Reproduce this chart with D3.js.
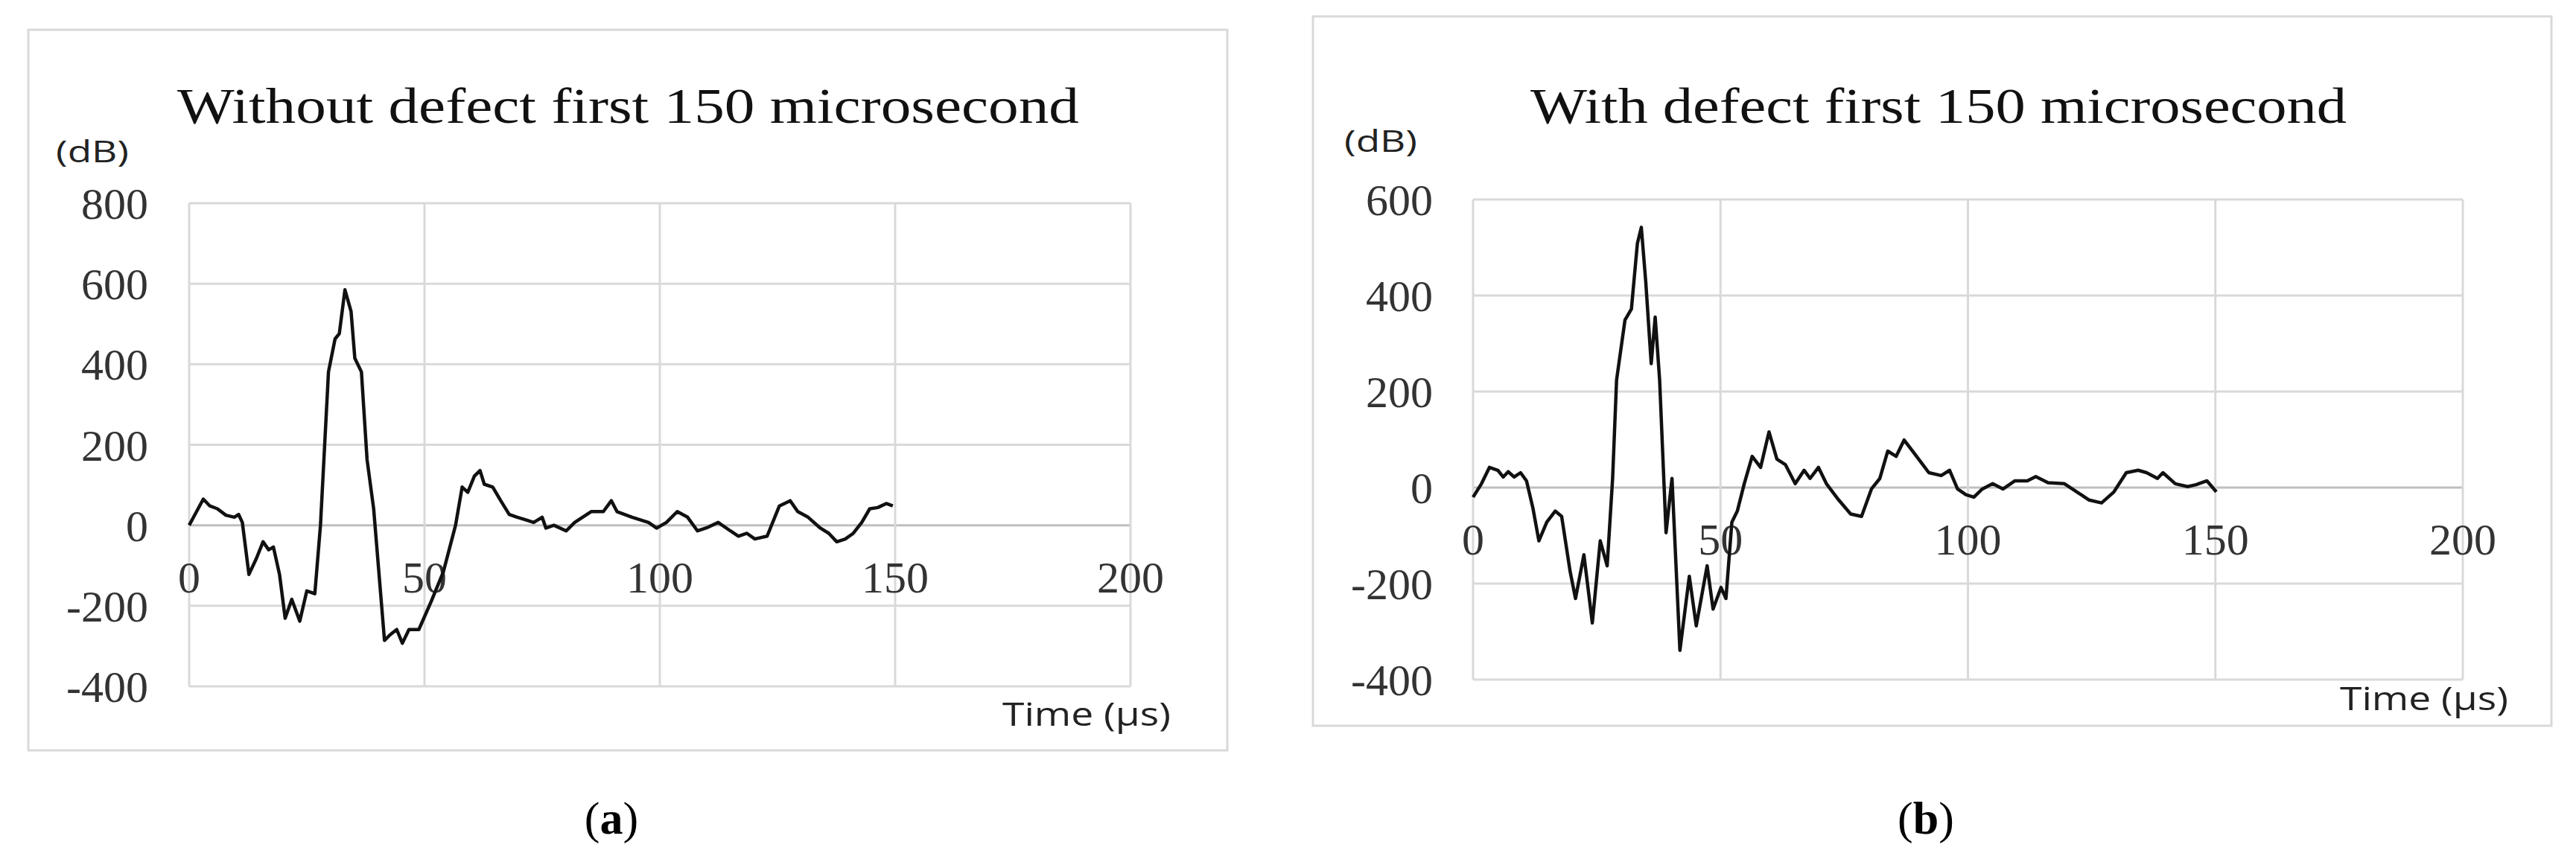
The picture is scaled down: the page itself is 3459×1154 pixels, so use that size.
<!DOCTYPE html>
<html><head><meta charset="utf-8">
<script src="https://cdn.jsdelivr.net/npm/d3@7"></script>
<style>body{margin:0;background:#fff}</style></head>
<body><svg id="c" width="3459" height="1154"></svg>
<script>
const timeA=[0,3,4.4,6,7.8,9.6,10.5,11.3,12.7,14.3,15.7,16.9,17.9,19.2,20.4,21.8,23.5,25,26.7,27.9,29.6,31,31.9,33.1,34.4,35.2,36.6,37.8,39.2,41.5,42.7,44.1,45.3,46.7,48.8,51.4,54,56.6,58,59.2,60.6,61.8,62.7,64.5,66.2,68,69.7,71.4,73.2,75,75.8,77.5,80.1,81.9,85.4,88,89.7,90.9,94.1,97.6,99.3,101.4,103.7,105.9,108,109.8,112.4,115,116.7,118.5,120.2,122.8,125.4,127.7,129.3,131.5,134.1,135.9,137.6,139.4,141.1,142.9,144.6,146.3,148.1,149.5];
const valA=[0,65,48,41,25,20,27,7,-122,-82,-41,-61,-54,-122,-231,-184,-238,-163,-170,0,381,463,476,585,531,415,381,163,41,-286,-272,-259,-293,-259,-259,-190,-116,0,95,82,122,136,102,95,61,27,20,14,7,20,-7,0,-14,7,34,34,61,34,20,7,-7,7,34,20,-14,-7,7,-14,-27,-20,-34,-27,48,61,34,20,-7,-20,-41,-34,-20,7,41,44,54,48];
const timeB=[0,1.7,3.3,5,6.1,7.1,8.3,9.6,10.8,12.1,13.3,14.9,16.6,17.9,19.6,20.7,22.4,24.1,25.7,27.1,28.2,29,30.7,32,33.2,34,34.9,36,36.8,37.7,39,40.2,41.8,43.7,45.1,47.3,48.5,50.1,51.1,52.3,53.4,54.8,56.4,58.1,59.8,61.4,63.1,65.1,66.9,68.1,69.8,71.4,73.9,76.3,78.5,80.5,82.2,83.8,85.5,87.1,88.8,90.5,92.1,94.6,96.3,97.9,99.6,101.2,102.9,105,107.1,109.5,112,113.7,116.2,119.5,122,124.5,127,129.5,132,134.4,136.1,138.3,139.4,141.9,144.4,146.1,148.3,150.2];
const valB=[-20,8,42,36,22,33,22,31,14,-43,-111,-72,-49,-60,-174,-231,-140,-282,-111,-163,19,224,349,372,508,542,428,258,355,224,-94,19,-339,-185,-288,-163,-253,-208,-231,-72,-49,8,65,42,116,59,48,8,36,19,42,8,-26,-55,-60,-3,19,76,65,99,76,53,31,25,36,-3,-15,-20,-3,8,-3,14,14,23,10,8,-9,-26,-32,-9,31,36,31,19,31,8,2,6,14,-9];
const xTicks=[0,50,100,150,200];
const yTicksA=[-400,-200,0,200,400,600,800];
const yTicksB=[-400,-200,0,200,400,600];

const svg=d3.select("#c");
function panel(o){
  svg.append("rect").attr("x",o.box[0]).attr("y",o.box[1]).attr("width",o.box[2]-o.box[0]).attr("height",o.box[3]-o.box[1])
    .attr("fill","#fff").attr("stroke","#d9d9d9").attr("stroke-width",3);
  const x=d3.scaleLinear().domain([0,200]).range(o.xr);
  const y=d3.scaleLinear().domain(o.yd).range(o.yr);
  const g=svg.append("g");
  g.selectAll(".h").data(o.yt).join("line").attr("x1",o.xr[0]).attr("x2",o.xr[1]).attr("y1",d=>y(d)).attr("y2",d=>y(d))
    .attr("stroke",d=>d===0?"#bfbfbf":"#d9d9d9").attr("stroke-width",3);
  g.selectAll(".v").data(xTicks).join("line").attr("x1",d=>x(d)).attr("x2",d=>x(d)).attr("y1",o.yr[0]).attr("y2",o.yr[1])
    .attr("stroke","#d9d9d9").attr("stroke-width",3);
  g.selectAll(".yl").data(o.yt).join("text").attr("x",o.ylx).attr("y",d=>y(d)).attr("dy","0.35em").attr("text-anchor","end")
    .attr("font-family","Liberation Serif").attr("font-size",60).attr("fill","#333").text(d=>d);
  g.selectAll(".xl").data(xTicks).join("text").attr("x",d=>x(d)).attr("y",o.xly).attr("text-anchor","middle")
    .attr("font-family","Liberation Serif").attr("font-size",60).attr("fill","#333").text(d=>d);
  const line=d3.line().x((d,i)=>x(o.t[i])).y(d=>y(d));
  g.append("path").attr("d",line(o.v)).attr("fill","none").attr("stroke","#111").attr("stroke-width",4.5).attr("stroke-linejoin","round");
  svg.append("text").attr("x",o.title[0]).attr("y",165).attr("font-family","Liberation Serif").attr("font-size",68)
    .attr("textLength",o.title[1]).attr("lengthAdjust","spacingAndGlyphs").attr("fill","#111").text(o.title[2]);
  svg.append("text").attr("x",o.db).attr("y",o.dby).attr("font-family","Open Sans").attr("font-size",40)
    .attr("textLength",98).attr("lengthAdjust","spacingAndGlyphs").attr("fill","#222").text("(dB)");
  svg.append("text").attr("x",o.tm[0]).attr("y",o.tm[1]).attr("font-family","Open Sans").attr("font-size",44)
    .attr("textLength",226).attr("lengthAdjust","spacingAndGlyphs").attr("fill","#222").text("Time (µs)");
  const cap=svg.append("text").attr("x",o.cap).attr("y",1120).attr("text-anchor","middle").attr("font-family","Liberation Serif").attr("font-size",62).attr("fill","#000");
  cap.append("tspan").text("(");cap.append("tspan").attr("font-weight","bold").text(o.letter);cap.append("tspan").text(")");
}
panel({box:[38,40,1648,1008],xr:[254,1518],yd:[-400,800],yr:[922,273],yt:yTicksA,ylx:199,xly:796,t:timeA,v:valA,
  title:[238,1211,"Without defect first 150 microsecond"],db:75,dby:218,tm:[1346,975],cap:821,letter:"a"});
panel({box:[1763,22,3426,975],xr:[1978,3307],yd:[-400,600],yr:[913,268],yt:yTicksB,ylx:1924,xly:745,t:timeB,v:valB,
  title:[2055,1096,"With defect first 150 microsecond"],db:1805,dby:204,tm:[3142,954],cap:2586,letter:"b"});
</script></body></html>
